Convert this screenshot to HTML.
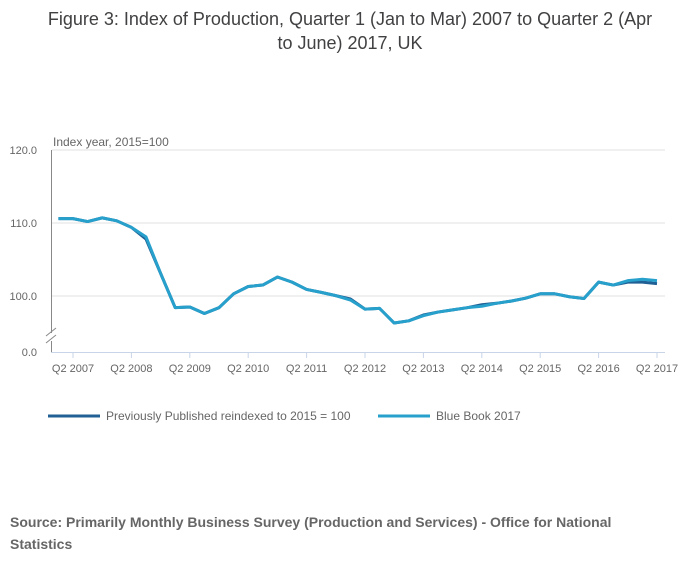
<!DOCTYPE html>
<html><head><meta charset="utf-8"><style>
body{margin:0;background:#fff;font-family:"Liberation Sans","DejaVu Sans",sans-serif;}
#wrap{position:relative;width:700px;height:574px;}
</style></head><body>
<div id="wrap">
<svg id="chart" width="700" height="574" xmlns="http://www.w3.org/2000/svg">
<text x="350" y="25" text-anchor="middle" font-size="18" fill="#414042">Figure 3: Index of Production, Quarter 1 (Jan to Mar) 2007 to Quarter 2 (Apr</text>
<text x="350" y="49" text-anchor="middle" font-size="18" fill="#414042">to June) 2017, UK</text>
<text x="53" y="146" font-size="12" fill="#666">Index year, 2015=100</text>
<g id="grid"></g><g id="axes"></g><g id="series"></g>
<g>
<line x1="48" y1="416" x2="100" y2="416" stroke="#206095" stroke-width="3"/>
<text x="106" y="420" font-size="12" fill="#666">Previously Published reindexed to 2015 = 100</text>
<line x1="378" y1="416" x2="430" y2="416" stroke="#27a0cc" stroke-width="3"/>
<text x="436" y="420" font-size="12" fill="#666">Blue Book 2017</text>
</g>
<text x="10" y="527" font-size="14" font-weight="bold" fill="#666">Source: Primarily Monthly Business Survey (Production and Services) - Office for National</text>
<text x="10" y="549" font-size="14" font-weight="bold" fill="#666">Statistics</text>
</svg>
</div>
<script>
const previous=[110.6,110.6,110.2,110.7,110.3,109.4,107.8,103.1,98.4,98.5,97.6,98.4,100.3,101.3,101.5,102.6,101.9,100.9,100.5,100.05,99.6,98.2,98.3,96.3,96.6,97.4,97.8,98.1,98.4,98.8,99.0,99.3,99.7,100.3,100.3,99.9,99.65,101.9,101.5,101.9,101.9,101.7];
const blueBook=[110.6,110.6,110.2,110.7,110.3,109.4,108.1,103.1,98.4,98.5,97.6,98.4,100.3,101.3,101.5,102.6,101.9,100.9,100.5,100.05,99.45,98.2,98.3,96.3,96.6,97.3,97.8,98.1,98.4,98.6,99.0,99.3,99.7,100.3,100.3,99.9,99.65,101.9,101.5,102.1,102.3,102.1];
const xTickLabels=["Q2 2007","Q2 2008","Q2 2009","Q2 2010","Q2 2011","Q2 2012","Q2 2013","Q2 2014","Q2 2015","Q2 2016","Q2 2017"];
const yTicks=[100,110,120];
const NS="http://www.w3.org/2000/svg";
const x=i=>58.4+i*14.6;
const y=v=>296-(v-100)*7.3;
function mk(tag,attrs,parent){const e=document.createElementNS(NS,tag);for(const k in attrs)e.setAttribute(k,attrs[k]);parent.appendChild(e);return e;}
const grid=document.getElementById('grid'),axes=document.getElementById('axes'),series=document.getElementById('series');
yTicks.forEach(v=>{
 const l=mk('line',{x1:52,x2:665,y1:y(v),y2:y(v),stroke:'#e0e0e0'},grid);
 
 
 const t=mk('text',{x:37,y:y(v)+4,'font-size':11,fill:'#666','text-anchor':'end'},axes);
 t.textContent=v.toFixed(1);
 
 
});
const z=mk('text',{x:37,y:356,'font-size':11,fill:'#666','text-anchor':'end'},axes);z.textContent='0.0';


const ya=mk('path',{d:'M51.5 150V333M51.5 341V352',stroke:'#888',fill:'none'},axes);


const br=mk('path',{d:'M46 336L56 328M46 343L56 335',stroke:'#888',fill:'none'},axes);


const xa=mk('line',{x1:51,x2:665,y1:352.5,y2:352.5,stroke:'#c8d4e8'},axes);


xTickLabels.forEach((s,k)=>{
 const xi=x(1+4*k);
 const tk=mk('line',{x1:xi,x2:xi,y1:352,y2:358,stroke:'#c8d4e8'},axes);
 
 
 const t=mk('text',{x:xi,y:372,'font-size':11,fill:'#666','text-anchor':'middle'},axes);
 t.textContent=s;
 
 
});
function line(vals,color,name){
 const d=vals.map((v,i)=>(i?'L':'M')+x(i)+' '+y(v)).join('');
 const p=mk('path',{d:d,stroke:color,'stroke-width':3,fill:'none','stroke-linejoin':'round'},series);
 
 
}
line(previous,'#206095','line-previously-published');
line(blueBook,'#27a0cc','line-blue-book-2017');
</script>
</body></html>
